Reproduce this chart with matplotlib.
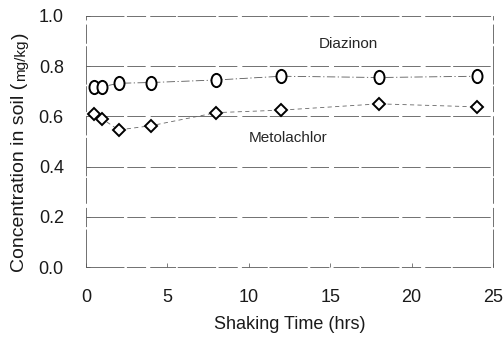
import matplotlib
matplotlib.use("Agg")
import matplotlib.pyplot as plt
import numpy as np
from matplotlib.path import Path
from matplotlib.transforms import Affine2D

plt.rcParams['font.family'] = ['Liberation Sans', 'DejaVu Sans']

# shaking time (hrs)
hours = [0.5, 1, 2, 4, 8, 12, 18, 24]
# concentration in soil (mg/kg)
diazinon = [0.718, 0.718, 0.732, 0.735, 0.745, 0.760, 0.755, 0.760]
metolachlor = [0.610, 0.590, 0.546, 0.563, 0.615, 0.625, 0.650, 0.638]

x_ticks = [0, 5, 10, 15, 20, 25]
y_ticks = [0.0, 0.2, 0.4, 0.6, 0.8, 1.0]

# upright ellipse, the scanned circles are a bit taller than wide
ellipse = Path.unit_circle().transformed(Affine2D().scale(0.76, 1.0))

fig = plt.figure(figsize=(5.03, 3.43), dpi=100)
ax = fig.add_axes([86 / 503, 76 / 343, 407 / 503, 251 / 343])

broken = (0, (45, 4, 22, 6, 30, 3))
for y in y_ticks[1:-1]:
    ax.axhline(y, color='0.35', lw=0.6, ls=broken, zorder=1)

ax.plot(hours, diazinon, color='0.35', lw=0.6, ls=(0, (10, 3, 1.5, 3)), zorder=2)
ax.plot(hours, metolachlor, color='0.4', lw=0.6, ls=(0, (5, 4)), zorder=2)
ax.plot(hours, diazinon, ls='none', marker=ellipse, ms=9.5, mfc='white',
        mec='black', mew=1.4, zorder=3)
ax.plot(hours, metolachlor, ls='none', marker='D', ms=6, mfc='white',
        mec='black', mew=1.4, zorder=3)

ax.text(16.1, 0.89, 'Diazinon', fontsize=11, ha='center', va='center', color='0.15')
ax.text(12.4, 0.514, 'Metolachlor', fontsize=11, ha='center', va='center', color='0.15')

ax.set_xlim(0, 25)
ax.set_ylim(0, 1.0)
ax.set_xticks(x_ticks)
ax.set_yticks(y_ticks)
ax.set_yticklabels(['%.1f' % v for v in y_ticks])
ax.tick_params(direction='in', length=3, width=0.6, color='0.4',
               labelsize=13, pad=16, labelcolor='0.1')
for s in ax.spines.values():
    s.set_linewidth(0.6)
    s.set_color('0.35')
    s.set_linestyle(broken)

ax.set_xlabel('Shaking Time (hrs)', fontsize=13, labelpad=7, color='0.1')

# y label built from pieces so that "mg/kg" can be smaller
fig.canvas.draw()
r = fig.canvas.get_renderer()
x0, y0 = 20 / 503, 1 - 272 / 343
t1 = fig.text(x0, y0, 'Concentration in soil (', rotation=90, fontsize=14,
              ha='center', va='bottom', color='0.1')
h1 = t1.get_window_extent(r).height / fig.bbox.height
t2 = fig.text(x0 + 1 / 503, y0 + h1 + 0.004, 'mg/kg', rotation=90, fontsize=11,
              ha='center', va='bottom', color='0.1')
h2 = t2.get_window_extent(r).height / fig.bbox.height
fig.text(x0, y0 + h1 + h2 + 0.008, ')', rotation=90, fontsize=14,
         ha='center', va='bottom', color='0.1')

fig.savefig('out.png', dpi=100)
